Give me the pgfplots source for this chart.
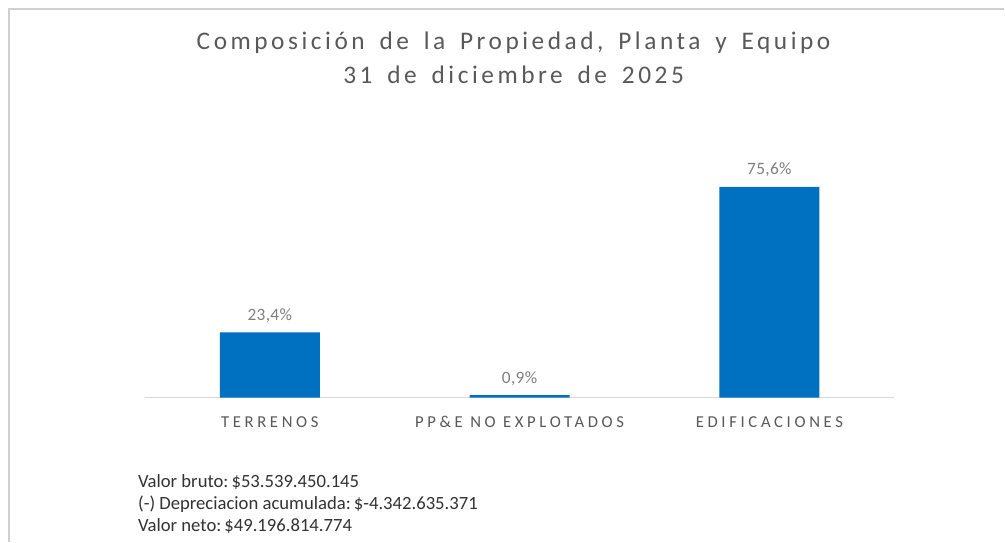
\documentclass[border=0pt]{standalone}
\usepackage{pgfplots}
\pgfplotsset{compat=1.18}
\usepackage{fontspec}
\setmainfont{Carlito}
\newfontfamily\titlefont[LetterSpace=14,WordSpace=1.6]{Carlito}
\newfontfamily\catfont[LetterSpace=22]{Carlito}
\newfontfamily\lblfont[LetterSpace=2]{Carlito}
\definecolor{barblue}{HTML}{0070C0}
\definecolor{titlegray}{HTML}{595959}
\definecolor{lblgray}{HTML}{7F7F7F}
\definecolor{axisgray}{HTML}{D9D9D9}
\definecolor{framegray}{HTML}{D0D0D0}
\definecolor{notegray}{HTML}{333333}

% share of PP&E (percent)
\pgfplotstableread{
x share
0 23.4
1 0.9
2 75.6
}\ppedata

\begin{document}
\begin{tikzpicture}
% page 1005x542 px at 0.75pt per px
\path[fill=white] (0,0) rectangle (753.75pt,406.5pt);
\draw[framegray, line width=1.2pt] (6.75pt,0) -- (6.75pt,399.75pt) -- (753.75pt,399.75pt);

\node[anchor=base, text=titlegray, font=\titlefont\fontsize{19}{21}\selectfont]
  at (385.5pt,369pt) {Composición de la Propiedad, Planta y Equipo};
\node[anchor=base, text=titlegray, font=\titlefont\fontsize{19}{21}\selectfont]
  at (385.5pt,343.5pt) {31 de diciembre de 2025};

\begin{axis}[
  at={(108.75pt,108pt)}, anchor=south west,
  scale only axis, width=562.5pt, height=167.5pt,
  xmin=-0.5, xmax=2.5, ymin=0, ymax=80,
  axis x line=bottom, axis y line=none,
  axis line style={-, draw=axisgray, line width=1.1pt},
  ytick=\empty,
  xtick={0,1,2},
  xticklabels={TERRENOS, PP\&E NO EXPLOTADOS, EDIFICACIONES},
  major tick length=0pt,
  xticklabel style={anchor=base, yshift=-22.5pt, text=titlegray,
    font=\catfont\fontsize{12.5}{14}\selectfont},
  /pgf/number format/assume math mode=true,
  nodes near coords={\pgfmathprintnumber[fixed, fixed zerofill, precision=1, use comma]{\pgfplotspointmeta}\%},
  nodes near coords style={anchor=base, yshift=9pt, text=lblgray,
    font=\lblfont\fontsize{13}{15}\selectfont},
  clip=false,
]
\addplot[ybar, bar width=75pt, fill=barblue, draw=none] table[x=x, y=share] {\ppedata};
\end{axis}

\begin{scope}[every node/.style={anchor=base west, inner sep=0pt, text=notegray, font=\fontsize{14}{17}\selectfont}]
\node at (103.5pt,40.5pt) {Valor bruto:\,\$53.539.450.145};
\node at (103.5pt,24pt) {(-) Depreciacion acumulada:\,\$-4.342.635.371};
\node at (103.5pt,7.5pt) {Valor neto:\,\$49.196.814.774};
\end{scope}
\end{tikzpicture}
\end{document}
